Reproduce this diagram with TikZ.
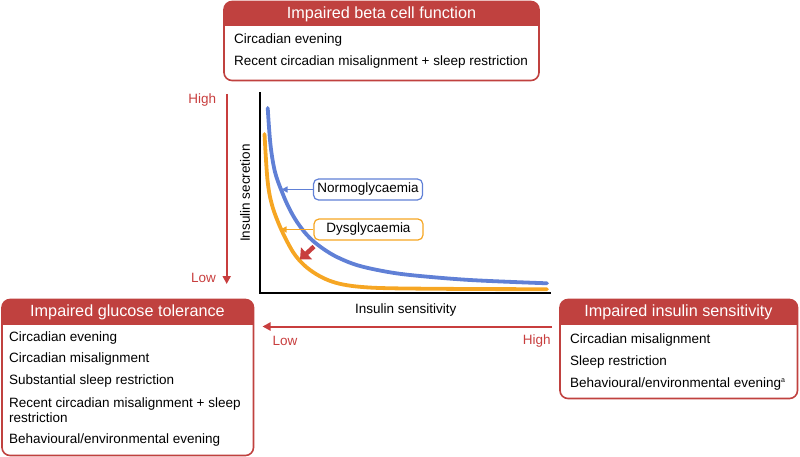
\documentclass[tikz,border=0pt]{standalone}
\usepackage{fontspec}
\setmainfont{Liberation Sans}
\usetikzlibrary{arrows.meta}
\definecolor{hred}{RGB}{192,65,63}
\definecolor{ared}{RGB}{200,62,62}
\definecolor{nblue}{RGB}{96,128,214}
\definecolor{dorange}{RGB}{246,166,35}
\tikzset{
  hdrtext/.style={text=white,font=\fontsize{16.2}{18}\selectfont,inner sep=0pt},
  itemtext/.style={anchor=west,font=\fontsize{13.5}{14.6}\selectfont,inner sep=0pt,align=left},
  redtext/.style={text=ared,font=\fontsize{13.5}{15}\selectfont,inner sep=0pt},
  axtext/.style={font=\fontsize{13.5}{15}\selectfont,inner sep=0pt},
  boxborder/.style={draw=hred,line width=1.6pt,rounded corners=8pt},
  redarrow/.style={draw=ared,line width=2pt,-{Triangle[length=8pt,width=8pt]}},
  lblbox/.style={rounded corners=5pt,line width=1.2pt,fill=white,font=\fontsize{13.5}{15}\selectfont,minimum width=109pt,minimum height=21pt,inner sep=0pt},
  curve/.style={line width=3.8pt,line cap=round,line join=round},
}
\begin{document}
\begin{tikzpicture}[x=1pt,y=-1pt]
\useasboundingbox (0,0) rectangle (800,457);
% ---------- top box
\begin{scope}
\clip[rounded corners=8pt] (224,1.5) rectangle (539,80.5);
\fill[hred] (224,1.5) rectangle (539,26.5);
\end{scope}
\draw[boxborder] (224,1.5) rectangle (539,80.5);
\node[hdrtext] (beta) at (381.5,14) {Impaired beta cell function};
\node[itemtext] (b1) at (234,40.5) {Circadian evening};
\node[itemtext] (b2) at (234,62) {Recent circadian misalignment + sleep restriction};
% ---------- left box
\begin{scope}
\clip[rounded corners=8pt] (2,299.5) rectangle (253.5,455.5);
\fill[hred] (2,299.5) rectangle (253.5,325);
\end{scope}
\draw[boxborder] (2,299.5) rectangle (253.5,455.5);
\node[hdrtext] (glu) at (127.5,312) {Impaired glucose tolerance};
\node[itemtext] (g1) at (9,337.7) {Circadian evening};
\node[itemtext] (g2) at (9,359.3) {Circadian misalignment};
\node[itemtext] (g3) at (9,381) {Substantial sleep restriction};
\node[itemtext] (g4) at (9,410.3) {Recent circadian misalignment + sleep\\restriction};
\node[itemtext] (g5) at (9,440) {Behavioural/environmental evening};
% ---------- right box
\begin{scope}
\clip[rounded corners=8pt] (560,299.5) rectangle (797.5,398.5);
\fill[hred] (560,299.5) rectangle (797.5,325);
\end{scope}
\draw[boxborder] (560,299.5) rectangle (797.5,398.5);
\node[hdrtext] (sens) at (678.5,312) {Impaired insulin sensitivity};
\node[itemtext] (s1) at (570,340) {Circadian misalignment};
\node[itemtext] (s2) at (570,361.7) {Sleep restriction};
\node[itemtext] (s3) at (570,384) {Behavioural/environmental evening\textsuperscript{\fontsize{7}{8}\selectfont a}};
% ---------- axes
\coordinate (otop) at (260,92.5);
\coordinate (orig) at (260,293.3);
\coordinate (oright) at (551,293.3);
\draw[line width=2.2pt] (otop) -- (orig) -- (oright);
\node[axtext] (xlab) at (405.7,310.5) {Insulin sensitivity};
\node[axtext,rotate=90] (ylab) at (245,193) {Insulin secretion};
% ---------- red direction arrows
\coordinate (vtop) at (226.7,94);
\coordinate (vbot) at (226.7,284);
\draw[redarrow] (vtop) -- (vbot);
\node[redtext] (vhigh) at (202.3,100.5) {High};
\node[redtext] (vlow) at (203.5,277.5) {Low};
\coordinate (hstart) at (552,326.5);
\coordinate (hend) at (262.5,326.5);
\draw[redarrow] (hstart) -- (hend);
\node[redtext] (hlow) at (285,341) {Low};
\node[redtext] (hhigh) at (536.7,341) {High};
% ---------- curves
\draw[curve,nblue] plot[smooth,tension=0.55] coordinates {(267.7,108) (270.5,145) (275,172) (282,192) (289,208) (297,222) (307,235) (318,245) (334,255.5) (355,264.5) (380,270.5) (410,275) (470,280) (547,283.3)};
\draw[curve,dorange] plot[smooth,tension=0.55] coordinates {(264.5,134) (267.5,180) (272,205) (281,229) (293,252) (304,265) (316,274) (329,280.5) (343,284.5) (362,287) (392,288.3) (470,289) (547,289.2)};
% ---------- small red shift arrow
\coordinate (sa) at (314,246.5);
\coordinate (sb) at (300,259.5);
\draw[draw=ared,line width=4.5pt,-{Triangle[length=9pt,width=16pt]}] (sa) -- (sb);
% ---------- curve labels
\node[lblbox,draw=nblue] (normo) at (368,189.5) {Normoglycaemia};
\node[lblbox,draw=dorange] (dys) at (368.5,229.5) {Dysglycaemia};
\coordinate (ntip) at (281.5,189.5);
\coordinate (dtip) at (280.5,229.5);
\draw[nblue,line width=1.6pt,-{Triangle[length=6pt,width=6pt]}] (normo.west) -- (ntip);
\draw[dorange,line width=1.6pt,-{Triangle[length=6pt,width=6pt]}] (dys.west) -- (dtip);
\end{tikzpicture}
\end{document}
